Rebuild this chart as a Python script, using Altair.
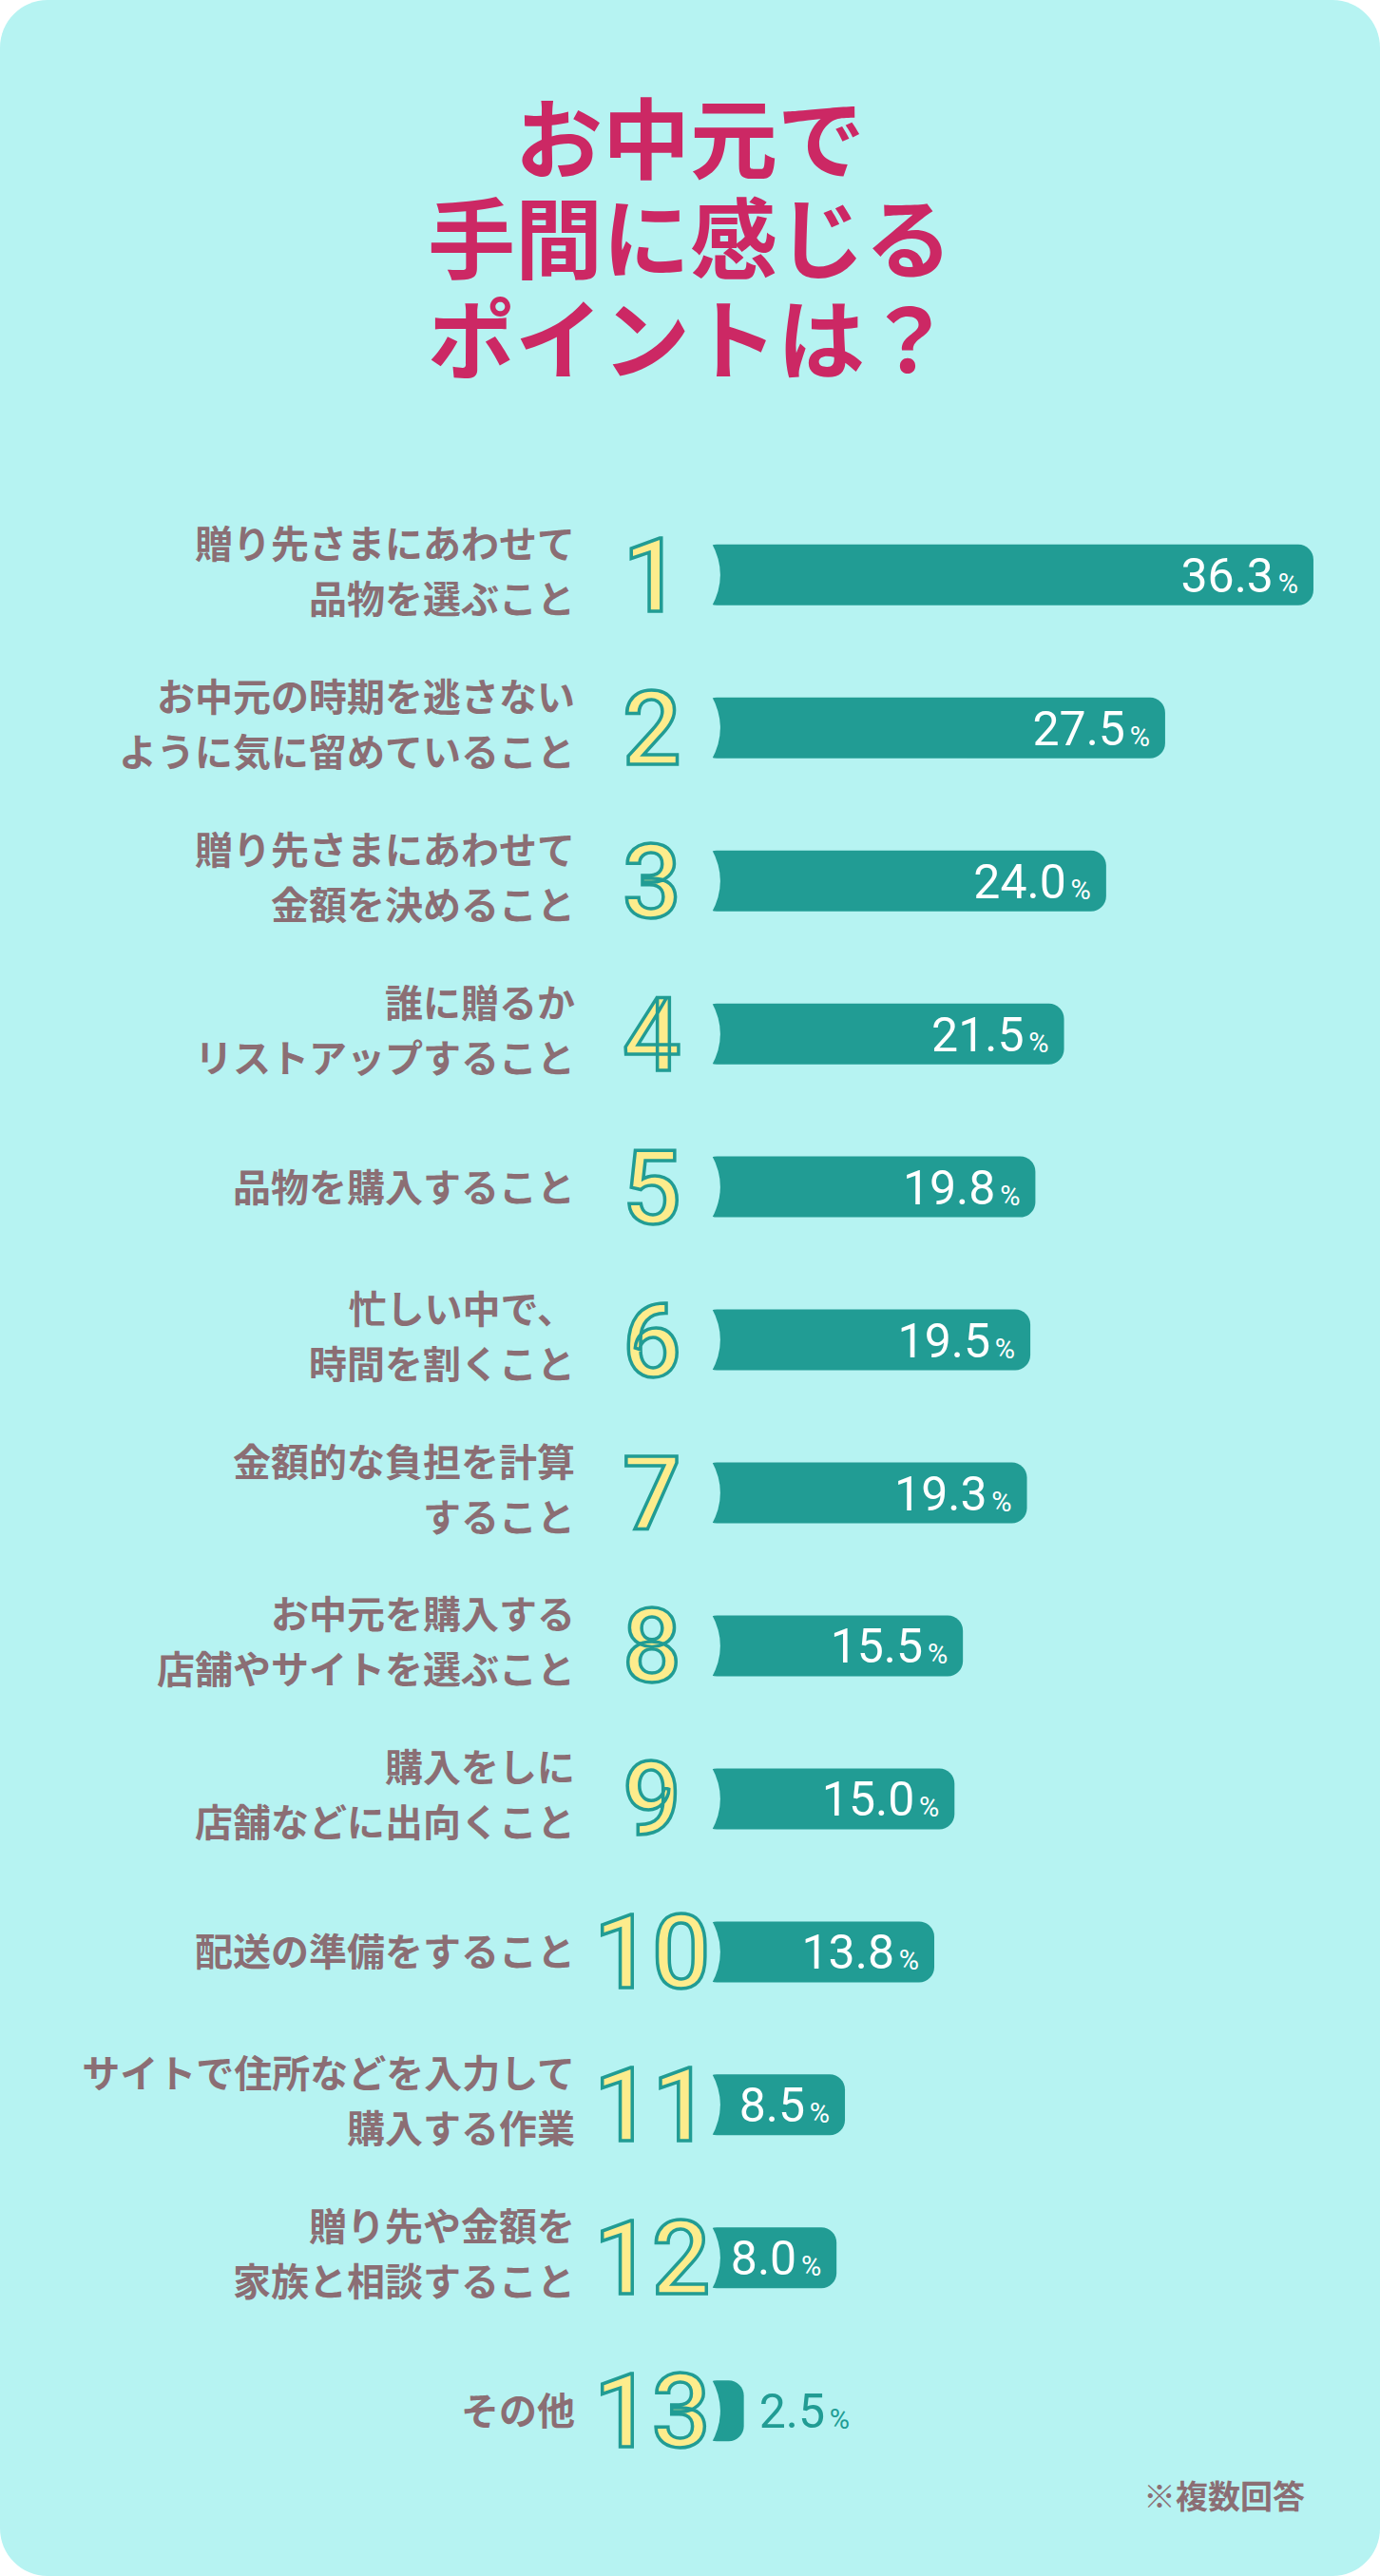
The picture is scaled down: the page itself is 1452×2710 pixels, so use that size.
import altair as alt
import pandas as pd

# ---------------- data ----------------
title_lines = ["お中元で", "手間に感じる", "ポイントは？"]
ranks = [1, 2, 3, 4, 5, 6, 7, 8, 9, 10, 11, 12, 13]
labels = [
    "贈り先さまにあわせて\n品物を選ぶこと",
    "お中元の時期を逃さない\nように気に留めていること",
    "贈り先さまにあわせて\n金額を決めること",
    "誰に贈るか\nリストアップすること",
    "品物を購入すること",
    "忙しい中で、\n時間を割くこと",
    "金額的な負担を計算\nすること",
    "お中元を購入する\n店舗やサイトを選ぶこと",
    "購入をしに\n店舗などに出向くこと",
    "配送の準備をすること",
    "サイトで住所などを入力して\n購入する作業",
    "贈り先や金額を\n家族と相談すること",
    "その他",
]
values = [36.3, 27.5, 24.0, 21.5, 19.8, 19.5, 19.3, 15.5, 15.0, 13.8, 8.5, 8.0, 2.5]
footnote = "※複数回答"

# ---------------- style ----------------
W, H = 1452, 2710
BG = "#B6F3F2"
TEAL = "#219C94"
YELLOW = "#FDEC8C"
GRAY = "#8B6E74"
TITLE = "#CC2864"
JP = "Noto Sans CJK JP"
NUM = "Roboto"

l1, l2, single = [], [], []
for lab in labels:
    parts = lab.split("\n")
    if len(parts) == 2:
        l1.append(parts[0]); l2.append(parts[1]); single.append("")
    else:
        l1.append(""); l2.append(""); single.append(parts[0])

df = pd.DataFrame({
    "rank": ranks,
    "rank_txt": [str(r) for r in ranks],
    "line1": l1,
    "line2": l2,
    "single": single,
    "value": values,
    "zero": [0.0] * len(values),
    "vtxt": [f"{v:.1f}" for v in values],
    "pct": ["%"] * len(values),
})

xs = alt.Scale(domain=[-41.64, 40.25], nice=False, zero=False)
ys = alt.Scale(domain=[-2.7264, 14.0483], nice=False, zero=False, reverse=True)
X = lambda f: alt.X(f, type="quantitative", scale=xs, axis=None)
Y = alt.Y("rank:Q", scale=ys, axis=None)

base = alt.Chart(df)

bg = alt.Chart(pd.DataFrame({"a": [0]})).mark_rect(
    cornerRadius=50, color=BG
).encode(x=alt.value(0), x2=alt.value(W), y=alt.value(0), y2=alt.value(H))

bars = base.mark_bar(color=TEAL, size=64, cornerRadiusEnd=16).encode(
    x=X("zero"), x2="value", y=Y
)

# concave cut on the left end of every bar
notch = base.mark_point(
    shape="M -0.6 -1 L 0.3 -1 Q 0.85 0 0.3 1 L -0.6 1 Z",
    filled=True, size=68 * 68, color=BG, opacity=1, strokeWidth=0,
).encode(x=X("zero"), y=Y)

numerals = base.mark_text(
    font=NUM, fontSize=108, fontWeight=500, fill=YELLOW, stroke=TEAL,
    strokeWidth=3.5, align="center", baseline="middle", dy=6,
).encode(x=alt.value(686), y=Y, text="rank_txt:N")

inside = base.transform_filter("datum.value >= 5")
vnum = inside.mark_text(
    font=NUM, fontSize=50, color="white", align="right", baseline="middle", dy=3, dx=-42
).encode(x=X("value"), y=Y, text="vtxt:N")
vpct = inside.mark_text(
    font=NUM, fontSize=29, color="white", align="right", baseline="middle", dy=10, dx=-16
).encode(x=X("value"), y=Y, text="pct:N")

outside = base.transform_filter("datum.value < 5")
onum = outside.mark_text(
    font=NUM, fontSize=50, color=TEAL, align="left", baseline="middle", dy=3, dx=16
).encode(x=X("value"), y=Y, text="vtxt:N")
opct = outside.mark_text(
    font=NUM, fontSize=29, color=TEAL, align="left", baseline="middle", dy=10, dx=90
).encode(x=X("value"), y=Y, text="pct:N")

lab_kw = dict(font=JP, fontSize=40, fontWeight="bold", color=GRAY, align="right", baseline="middle")
lab1 = base.mark_text(dy=-30, **lab_kw).encode(x=alt.value(605), y=Y, text="line1:N")
lab2 = base.mark_text(dy=28, **lab_kw).encode(x=alt.value(605), y=Y, text="line2:N")
lab0 = base.mark_text(dy=3, **lab_kw).encode(x=alt.value(605), y=Y, text="single:N")

title_layers = []
for line, yy in zip(title_lines, [153, 258, 364]):
    title_layers.append(
        alt.Chart(pd.DataFrame({"t": [line]})).mark_text(
            font=JP, fontSize=92, fontWeight="bold", color=TITLE, align="center",
            baseline="middle",
        ).encode(x=alt.value(W / 2), y=alt.value(yy), text="t:N")
    )

note = alt.Chart(pd.DataFrame({"t": [footnote]})).mark_text(
    font=JP, fontSize=34, fontWeight="bold", color=GRAY, align="right", baseline="middle",
).encode(x=alt.value(1373), y=alt.value(2629), text="t:N")

chart = alt.layer(
    bg, bars, notch, numerals, vnum, vpct, onum, opct, lab1, lab2, lab0, *title_layers, note
).properties(
    width=W, height=H, padding=0, background="white",
    autosize=alt.AutoSizeParams(type="none"),
).configure_view(strokeWidth=0)

chart.save("out.html", embed_options={"renderer": "svg", "actions": False})
